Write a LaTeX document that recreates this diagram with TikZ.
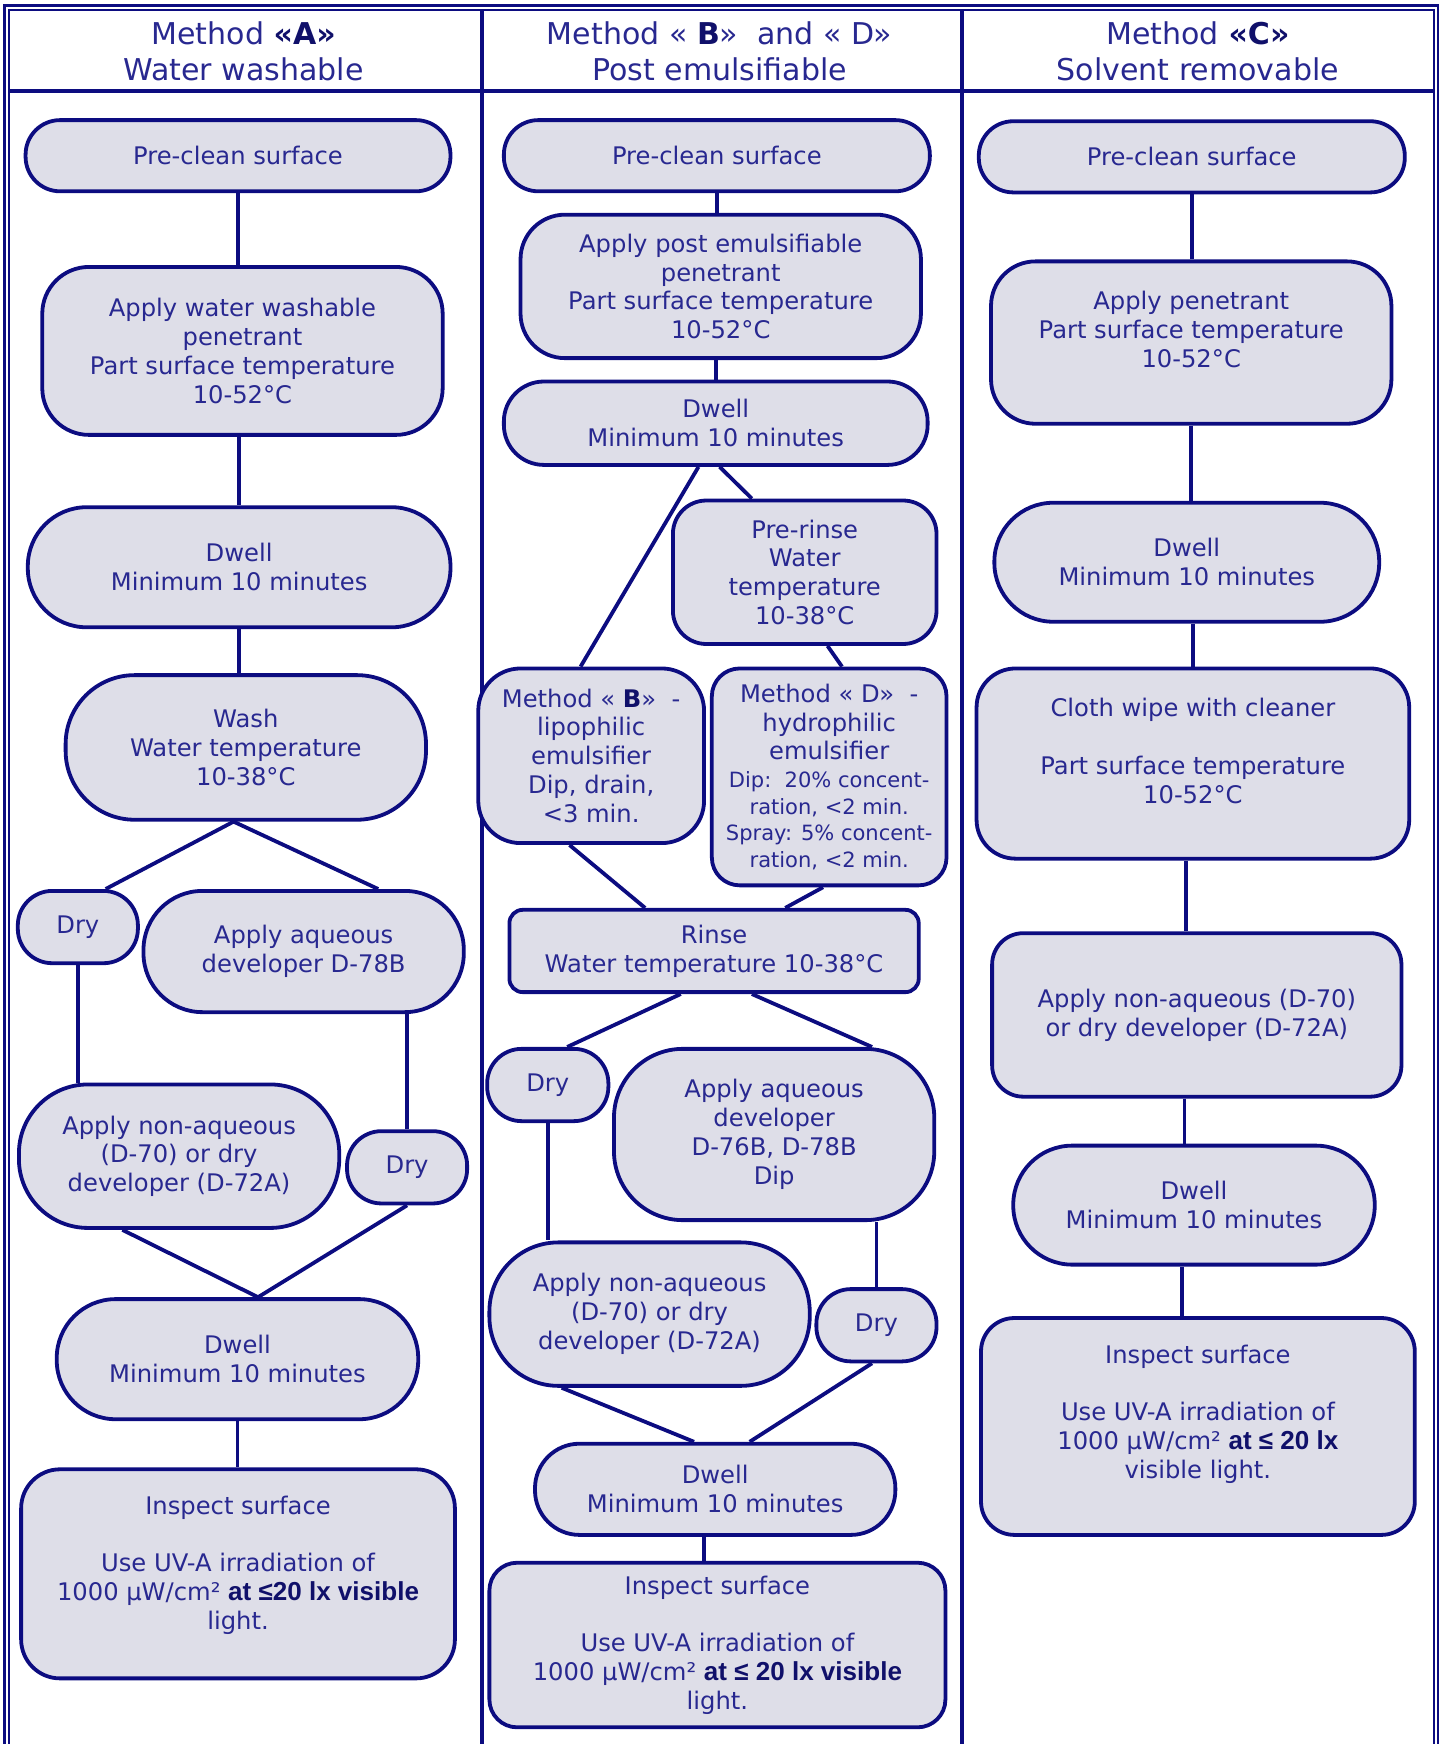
\documentclass[tikz,border=0pt]{standalone}
\usepackage{fontspec}
\setmainfont{DejaVu Sans}
\newfontfamily\boldpart{Liberation Sans}
\usepackage{xcolor}
\usepackage{tikz}
\usetikzlibrary{calc}

\definecolor{navyline}{HTML}{0C0C80}
\definecolor{navytext}{HTML}{282890}
\definecolor{navybold}{HTML}{10106A}
\definecolor{boxfill}{HTML}{DEDEE8}

\newlength\px
\setlength\px{0.5556pt}
\newcommand\bodyfont{\fontsize{12.1}{14.4}\selectfont}
\newcommand\headfont{\fontsize{15}{18.3}\selectfont}
\newcommand\smallfont{\fontsize{10.5}{13.3}\selectfont}
\newcommand\hi[1]{{\bfseries\color{navybold}#1}}
\newcommand\lux[1]{{\boldpart\bfseries\fontsize{13}{14.4}\selectfont\color{navybold}#1}}
\newcommand\lift[1]{\rule[-#1]{0pt}{0pt}}

\tikzset{
  stepbox/.style={draw=navyline, fill=boxfill, line width=1.9pt, align=center,
    text=navytext, font=\bodyfont, inner sep=0pt},
  wh/.style 2 args={minimum width=#1\px, minimum height=#2\px},
  rc/.style={rounded corners=#1\px},
  headtext/.style={align=center, text=navytext, font=\headfont, inner sep=0pt},
  wire/.style={draw=navyline, line width=1.9pt},
  frameline/.style={draw=navyline, line width=1.1pt}
}

\begin{document}
\begin{tikzpicture}[x=0.5556pt, y=-0.5556pt]
            \useasboundingbox (0,0) rectangle (1296,1568);

            \draw[frameline] (4,1568) -- (4,5) -- (1293,5) -- (1293,1568);
            \draw[frameline] (8,1568) -- (8,9) -- (1289,9) -- (1289,1568);
            \draw[wire] (8,82) -- (1289,82);
            \draw[wire] (433,9) -- (433,1568);
            \draw[wire] (865,9) -- (865,1568);

            \node[headtext] (hA) at (219,46) {Method \hi{«A»}\\Water washable};
            \node[headtext] (hB) at (647,46) {Method « \hi{B}»~ and « D»\\Post emulsifiable};
            \node[headtext] (hC) at (1077,46) {Method \hi{«C»}\\Solvent removable};

            \node[stepbox, wh={382}{64}, rc=31] (a1) at (214,140) {Pre-clean surface};
            \node[stepbox, wh={360}{151}, rc=42] (a2) at (218,315.5)
                {Apply water washable\\penetrant\\Part surface temperature\\10-52°C};
            \node[stepbox, wh={380}{108}, rc=53] (a3) at (215,510) {Dwell\\Minimum 10 minutes};
            \node[stepbox, wh={324}{130}, rc=62] (a4) at (221,672) {Wash\\Water temperature\\10-38°C};
            \node[stepbox, wh={108}{65}, rc=31] (a5) at (70,833.5) {Dry};
            \node[stepbox, wh={288}{109}, rc=53] (a6) at (273,855.5) {Apply aqueous\\developer D-78B};
            \node[stepbox, wh={288}{129}, rc=62] (a7) at (161,1039.5)
                {Apply non-aqueous\\(D-70) or dry\\developer (D-72A)};
            \node[stepbox, wh={108}{65}, rc=31] (a8) at (366,1049.5) {Dry};
            \node[stepbox, wh={325}{108}, rc=53] (a9) at (213.5,1222) {Dwell\\Minimum 10 minutes};
            \node[stepbox, wh={390}{188}, rc=35] (a10) at (214,1415)
                {Inspect surface\\[14.4pt]Use UV-A irradiation of\\1000 µW/cm² \lux{at ≤20 lx visible}\\light.\lift{20\px}};

            \node[stepbox, wh={383}{64}, rc=31] (b1) at (644.5,140) {Pre-clean surface};
            \node[stepbox, wh={360}{129}, rc=40] (b2) at (648,257.5)
                {Apply post emulsifiable\\penetrant\\Part surface temperature\\10-52°C};
            \node[stepbox, wh={381}{75}, rc=36] (b3) at (643.5,380.5) {Dwell\\Minimum 10 minutes};
            \node[stepbox, wh={237}{129}, rc=30] (b4) at (723.5,514.5) {Pre-rinse\\Water\\temperature\\10-38°C};
            \node[stepbox, wh={203}{157}, rc=38] (b5) at (531.5,679.5)
                {Method « \hi{B}»~ -\\lipophilic\\emulsifier\\Dip, drain,\\<3 min.};
            \node[stepbox, wh={211}{195}, rc=25] (b6) at (745.5,698.5)
                {Method « D»~ -\\hydrophilic\\emulsifier\\[-0.5pt]{\smallfont Dip:~~20\% concent-}\\[-1.1pt]{\smallfont ration, <2 min.}\\[-1.1pt]{\smallfont Spray: 5\% concent-}\\[-1.1pt]{\smallfont ration, <2 min.}};
            \node[stepbox, wh={368}{74}, rc=12] (b7) at (642,855) {Rinse\\Water temperature 10-38°C};
            \node[stepbox, wh={109}{65}, rc=31] (b8) at (492.5,975.5) {Dry};
            \node[stepbox, wh={288}{154}, rc=62] (b9) at (696,1020) {Apply aqueous\\developer\\D-76B, D-78B\\Dip};
            \node[stepbox, wh={288}{129}, rc=62] (b10) at (584,1181.5)
                {Apply non-aqueous\\(D-70) or dry\\developer (D-72A)};
            \node[stepbox, wh={108}{65}, rc=31] (b11) at (788,1191.5) {Dry};
            \node[stepbox, wh={324}{82}, rc=40] (b12) at (643,1339) {Dwell\\Minimum 10 minutes};
            \node[stepbox, wh={410}{148}, rc=25] (b13) at (645,1479)
                {Inspect surface\\[14.4pt]Use UV-A irradiation of\\1000 µW/cm² \lux{at ≤ 20 lx visible}\\light.};

            \node[stepbox, wh={383}{64}, rc=31] (c1) at (1071.5,141) {Pre-clean surface};
            \node[stepbox, wh={360}{146}, rc=40] (c2) at (1071,308)
                {Apply penetrant\\Part surface temperature\\10-52°C\lift{24\px}};
            \node[stepbox, wh={346}{107}, rc=53] (c3) at (1067,505.5) {Dwell\\Minimum 10 minutes};
            \node[stepbox, wh={389}{171}, rc=35] (c4) at (1072.5,686.5)
                {Cloth wipe with cleaner\\[14.4pt]Part surface temperature\\10-52°C\lift{23\px}};
            \node[stepbox, wh={368}{147}, rc=28] (c5) at (1076,912.5)
                {Apply non-aqueous (D-70)\\or dry developer (D-72A)};
            \node[stepbox, wh={325}{107}, rc=53] (c6) at (1073.5,1083.5) {Dwell\\Minimum 10 minutes};
            \node[stepbox, wh={390}{195}, rc=30] (c7) at (1077,1282.5)
                {Inspect surface\\[14.4pt]Use UV-A irradiation of\\1000 µW/cm² \lux{at ≤ 20 lx}\\visible light.\lift{27\px}};

            \draw[wire] (a1.south) -- (a1.south |- a2.north);
            \draw[wire] (a3.north) -- (a3.north |- a2.south);
            \draw[wire] (a3.south) -- (a3.south |- a4.north);
            \coordinate (a4s) at ($(a4.south)+(-11,0)$);
            \draw[wire] ($(a5.north)+(25,0)$) -- (a4s) -- ($(a6.north)+(67,0)$);
            \draw[wire] (a5.south) -- (a5.south |- a7.north);
            \draw[wire] (a8.north) -- (a8.north |- a6.south);
            \draw[wire] ($(a7.south)+(-51,0)$) -- ($(a9.north)+(18.5,0)$) -- (a8.south);
            \draw[wire] (a9.south) -- (a9.south |- a10.north);

            \draw[wire] (b1.south) -- (b1.south |- b2.north);
            \draw[wire] (b3.north) -- (b3.north |- b2.south);
            \draw[wire] ($(b3.south)+(-15.5,0)$) -- ($(b5.north)+(-9.5,0)$);
            \draw[wire] ($(b3.south)+(3.5,0)$) -- ($(b4.north)+(-47.5,0)$);
            \draw[wire] ($(b4.south)+(20.5,0)$) -- ($(b6.north)+(11.5,0)$);
            \draw[wire] ($(b5.south)+(-19.5,0)$) -- ($(b7.north)+(-62,0)$);
            \draw[wire] ($(b6.south)+(-5.5,0)$) -- ($(b7.north)+(64,0)$);
            \draw[wire] ($(b7.south)+(-30,0)$) -- ($(b8.north)+(17.5,0)$);
            \draw[wire] ($(b7.south)+(34,0)$) -- ($(b9.north)+(88,0)$);
            \draw[wire] (b8.south) -- (b8.south |- b10.north);
            \draw[wire] (b11.north) -- (b11.north |- b9.south);
            \draw[wire] ($(b10.south)+(-79,0)$) -- ($(b12.north)+(-19,0)$);
            \draw[wire] ($(b11.south)+(-4,0)$) -- ($(b12.north)+(31,0)$);
            \coordinate (b12s) at ($(b12.south)+(-10,0)$);
            \draw[wire] (b12s) -- (b12s |- b13.north);

            \draw[wire] (c1.south) -- (c1.south |- c2.north);
            \draw[wire] (c2.south) -- (c2.south |- c3.north);
            \draw[wire] (c4.north) -- (c4.north |- c3.south);
            \coordinate (c4s) at ($(c4.south)+(-6.5,0)$);
            \draw[wire] (c4s) -- (c4s |- c5.north);
            \coordinate (c5s) at ($(c5.south)+(-11,0)$);
            \draw[wire] (c5s) -- (c5s |- c6.north);
            \coordinate (c6s) at ($(c6.south)+(-10.5,0)$);
            \draw[wire] (c6s) -- (c6s |- c7.north);
        \end{tikzpicture}
\end{document}
